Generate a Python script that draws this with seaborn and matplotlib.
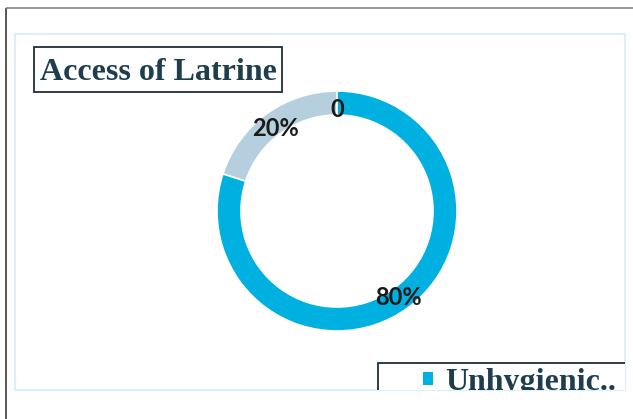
import matplotlib
matplotlib.use("Agg")
import numpy as np
import matplotlib.pyplot as plt
import seaborn as sns
from matplotlib.patches import Rectangle

# Latrine access shares (percent), drawn counter-clockwise from 12 o'clock
categories = ["No latrine", "Hygienic", "Unhygienic"]
shares = [0, 20, 80]
value_labels = ["0", "20%", "80%"]
legend_entries = ["Unhygienic.."]
chart_title = "Access of Latrine"

sns.set_theme(style="white")
plt.rcParams["font.family"] = ["DejaVu Sans"]

palette = {"No latrine": "#00B0E0", "Hygienic": "#B5CFDE", "Unhygienic": "#00B0E0"}
ink = "#1E3E4E"

W, H, DPI = 633, 419, 100
fig = plt.figure(figsize=(W / DPI, H / DPI), dpi=DPI)
fig.patch.set_facecolor("white")


def px_axes(x0, y0, x1, y1):
    """Axes placed by a pixel box measured from the top-left corner."""
    return fig.add_axes([x0 / W, 1 - y1 / H, (x1 - x0) / W, (y1 - y0) / H])


# page border lines
page = px_axes(0, 0, W, H)
page.set_xlim(0, W)
page.set_ylim(H, 0)
page.axis("off")
page.plot([6, 6], [8, H], color="#3a3a3a", lw=1.2, solid_capstyle="butt")
page.plot([6, W], [8, 8], color="#858585", lw=1.2, solid_capstyle="butt")

# chart area with its light frame
area = px_axes(15, 34, 625, 390)
area.set_xlim(15, 625)
area.set_ylim(390, 34)
area.set_xticks([])
area.set_yticks([])
area.set_facecolor("white")
for sp in area.spines.values():
    sp.set_color("#DCEFFA")
    sp.set_linewidth(1.6)

# title box
area.add_patch(Rectangle((34, 47), 248, 45, facecolor="white",
                         edgecolor="#1F2F38", lw=1.3, zorder=3))
area.text(158, 72, chart_title, ha="center", va="center", fontsize=23,
          fontweight="bold", family=["Liberation Serif"], color=ink, zorder=4)

# legend box (runs past the bottom of the chart area and is cut by it)
area.add_patch(Rectangle((378, 363), 260, 60, facecolor="white",
                         edgecolor="#1F2F38", lw=1.3, zorder=3, clip_on=True))
for i, name in enumerate(legend_entries):
    area.add_patch(Rectangle((423, 372 + i * 24), 10, 13,
                             facecolor=palette["Unhygienic"], edgecolor="none",
                             zorder=4, clip_on=True))
    area.text(445, 382 + i * 24, name, ha="left", va="center", fontsize=23,
              fontweight="bold", family=["Liberation Serif"], color=ink,
              zorder=4, clip_on=True)

# doughnut
cx, cy, r_px = 337, 211, 120
pad = 135
donut = px_axes(cx - pad, cy - pad, cx + pad, cy + pad)
ring = 24 / r_px
wedges, _ = donut.pie(shares, colors=[palette[c] for c in categories],
                      startangle=90, counterclock=True, radius=1.0,
                      wedgeprops=dict(width=ring, edgecolor="white", linewidth=1.2))
donut.set_xlim(-pad / r_px, pad / r_px)
donut.set_ylim(-pad / r_px, pad / r_px)
donut.set_aspect("equal")
donut.axis("off")
donut.patch.set_alpha(0)

label_r = 104 / r_px
for w, lab in zip(wedges, value_labels):
    mid = np.deg2rad((w.theta1 + w.theta2) / 2)
    donut.text(label_r * np.cos(mid), label_r * np.sin(mid), lab,
               ha="center", va="center_baseline", fontsize=17, fontweight="bold",
               family=["Lato", "DejaVu Sans"], color="#1A1A1A", zorder=5)

fig.savefig("out.png", dpi=DPI)
